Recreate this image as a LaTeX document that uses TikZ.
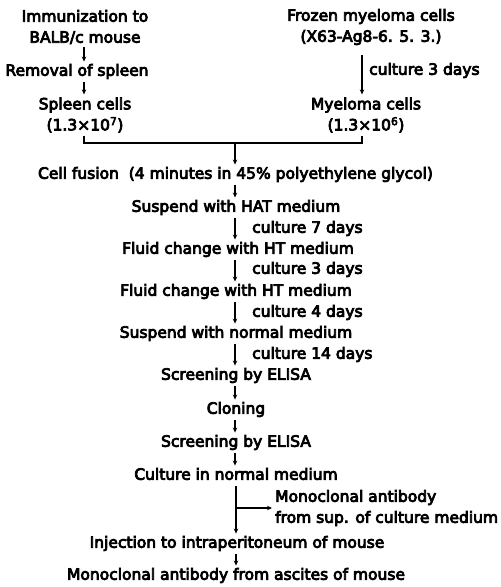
\documentclass[tikz,border=0pt]{standalone}
\usepackage{fontspec}
\setmainfont{DejaVu Sans}[FakeBold=5]
\usetikzlibrary{arrows.meta}
\begin{document}
\begin{tikzpicture}[x=1pt,y=-1pt,
  base/.style={font=\fontsize{15.5}{21}\selectfont, inner sep=3pt, align=center},
  txt/.style={base, text height=11pt, text depth=3.5pt},
  two/.style={base},
  lbl/.style={txt, anchor=west, align=left},
  lbltwo/.style={base, anchor=west, align=left},
  arr/.style={line width=1.2pt, -{Stealth[length=5pt,width=4.5pt]}},
  ln/.style={line width=1.2pt}]
\useasboundingbox (0,0) rectangle (501,587);
\coordinate (lx) at (84,0);
\coordinate (rx) at (362,0);
\coordinate (cx) at (235,0);
% left column
\node[two] (imm) at (85,27) {Immunization to\\BALB/c mouse};
\node[txt] (rem) at (77,72) {Removal of spleen};
\node[two] (spl) at (85,115) {Spleen cells\\(1.3×10\textsuperscript{7})};
% right column
\node[two] (froz) at (371,27) {Frozen myeloma cells\\(X63-Ag8-6. 5. 3.)};
\node[two] (mye) at (366,115) {Myeloma cells\\(1.3×10\textsuperscript{6})};
\node[lbl] (c3a) at (366,71) {culture 3 days};
% junction
\coordinate (jl) at (84,143);
\coordinate (jr) at (362,143);
\coordinate (jm) at (235,143);
% main column
\node[txt] (fus) at (235.5,175) {Cell fusion \ (4 minutes in 45\% polyethylene glycol)};
\node[txt] (hat) at (236,208) {Suspend with HAT medium};
\node[lbl] (c7) at (249,229) {culture 7 days};
\node[txt] (ht1) at (238,250) {Fluid change with HT medium};
\node[lbl] (c3b) at (249,270) {culture 3 days};
\node[txt] (ht2) at (236,292) {Fluid change with HT medium};
\node[lbl] (c4) at (249,313) {culture 4 days};
\node[txt] (norm) at (236,334) {Suspend with normal medium};
\node[lbl] (c14) at (249,355) {culture 14 days};
\node[txt] (scr1) at (236,376) {Screening by ELISA};
\node[txt] (clon) at (236,410) {Cloning};
\node[txt] (scr2) at (236,443) {Screening by ELISA};
\node[txt] (cult) at (236,476) {Culture in normal medium};
\node[lbltwo] (mono) at (272,508) {Monoclonal antibody\\from sup. of culture medium};
\node[txt] (inj) at (237,544) {Injection to intraperitoneum of mouse};
\node[txt] (asc) at (236,576) {Monoclonal antibody from ascites of mouse};
\coordinate (br) at (236,508);
% connectors
\draw[arr] (imm.south -| lx) -- (rem.north -| lx);
\draw[arr] (rem.south -| lx) -- (spl.north -| lx);
\draw[arr, shorten <=7pt] (froz.south -| rx) -- (mye.north -| rx);
\draw[ln] (spl.south -| lx) -- (jl) -- (jr) -- (mye.south -| rx);
\draw[arr] (jm) -- (fus.north -| cx);
\draw[arr] (fus.south -| cx) -- (hat.north -| cx);
\draw[arr] (hat.south -| cx) -- (ht1.north -| cx);
\draw[arr] (ht1.south -| cx) -- (ht2.north -| cx);
\draw[arr] (ht2.south -| cx) -- (norm.north -| cx);
\draw[arr] (norm.south -| cx) -- (scr1.north -| cx);
\draw[arr] (scr1.south -| cx) -- (clon.north -| cx);
\draw[arr] (clon.south -| cx) -- (scr2.north -| cx);
\draw[arr] (scr2.south -| cx) -- (cult.north -| cx);
\draw[arr] (cult.south -| br) -- (inj.north -| br);
\draw[arr] (br) -- (br -| mono.west);
\draw[arr] (inj.south -| br) -- (asc.north -| br);
\end{tikzpicture}
\end{document}
